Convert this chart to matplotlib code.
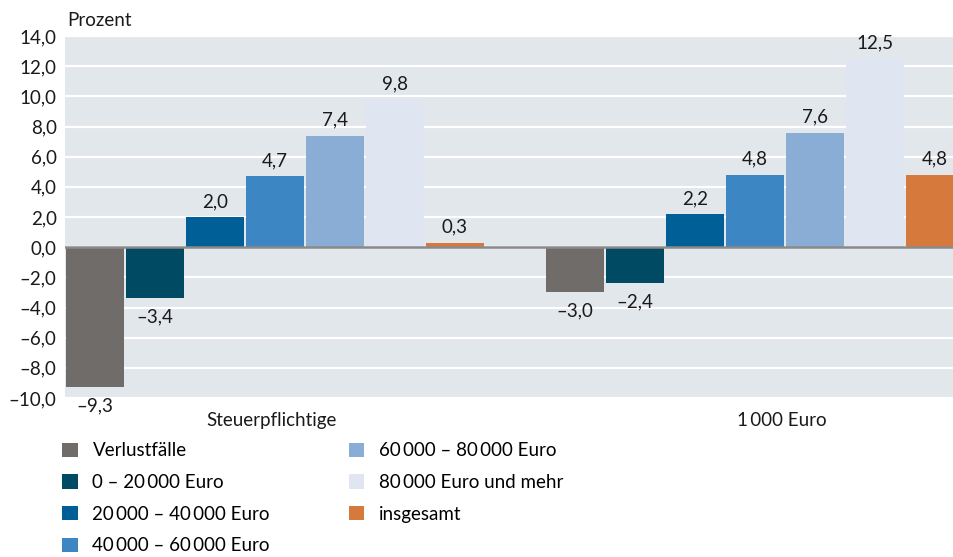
import numpy as np
import matplotlib.pyplot as plt
from matplotlib.patches import Patch

plt.rcParams['font.family'] = ['Lato', 'DejaVu Sans']

categories = ["Steuerpflichtige", "1\u2009000 Euro"]
series = [
    "Verlustfälle",
    "0 – 20\u2009000 Euro",
    "20\u2009000 – 40\u2009000 Euro",
    "40\u2009000 – 60\u2009000 Euro",
    "60\u2009000 – 80\u2009000 Euro",
    "80\u2009000 Euro und mehr",
    "insgesamt",
]
values = [
    [-9.3, -3.0],
    [-3.4, -2.4],
    [2.0, 2.2],
    [4.7, 4.8],
    [7.4, 7.6],
    [9.8, 12.5],
    [0.3, 4.8],
]
colors = ["#706c69", "#004b63", "#005f96", "#3c86c3", "#8aadd6", "#dfe6f2", "#d57a3c"]
yticks = np.arange(-10, 15, 2)


def fmt(v):
    return f"{v:.1f}".replace(".", ",").replace("-", "–")


fig = plt.figure(figsize=(9.54, 5.57), dpi=100)
ax = fig.add_axes([65 / 954, 1 - 398 / 557, 1 - 65 / 954, (398 - 36) / 557])
ax.set_facecolor("#e2e7ec")

fs = 13.5
slot = len(series) + 1
width = 58 / 60
for i, (name, vals, col) in enumerate(zip(series, values, colors)):
    xs = np.arange(len(categories)) * slot + i
    ax.bar(xs, vals, width=width, color=col, zorder=3, label=name)
    for x, v in zip(xs, vals):
        if v >= 0:
            ax.annotate(fmt(v), (x, v), xytext=(0, 5), textcoords="offset points",
                        ha="center", va="bottom", fontsize=fs, color="#1a1a1a",
                        annotation_clip=False)
        else:
            ax.annotate(fmt(v), (x, v), xytext=(0, -7), textcoords="offset points",
                        ha="center", va="top", fontsize=fs, color="#1a1a1a",
                        annotation_clip=False)

ax.axhline(0, color="#8a8a8a", lw=1.8, zorder=4)
ax.set_ylim(-10, 14)
ax.set_xlim(-0.5, -0.5 + (954 - 65) / 60)
ax.set_yticks(yticks)
ax.set_yticklabels([fmt(t) for t in yticks], fontsize=fs, color="#1a1a1a")
ax.yaxis.grid(True, color="white", lw=1.6, zorder=1)
ax.set_axisbelow(True)
ax.tick_params(axis="both", length=0, pad=6)
ax.set_xticks([2.95, 11.45])
ax.set_xticklabels(categories, fontsize=fs, color="#1a1a1a")
ax.tick_params(axis="x", pad=10)
for s in ax.spines.values():
    s.set_visible(False)

fig.text(67 / 954, 1 - 20 / 557, "Prozent", fontsize=fs, color="#1a1a1a",
         ha="left", va="center")

handles = [Patch(facecolor=c, edgecolor="none", label=n) for n, c in zip(series, colors)]
fig.legend(handles=handles, loc="upper left", bbox_to_anchor=(55 / 954, 1 - 435 / 557),
           ncol=2, frameon=False, fontsize=fs, handlelength=0.8, handleheight=0.8,
           handletextpad=0.8, columnspacing=4.2, labelspacing=0.78, borderaxespad=0)

fig.savefig("out.png", dpi=100)
